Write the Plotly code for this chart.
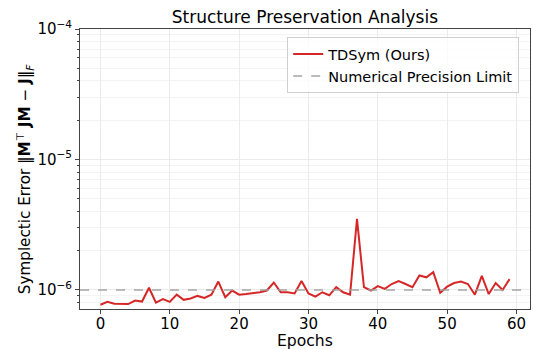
import plotly.graph_objects as go

epochs = list(range(60))
tdsym_error = [
    7.7e-7, 8.1e-7, 7.85e-7, 7.8e-7, 7.8e-7, 8.3e-7, 8.15e-7, 1.04e-6, 8.0e-7, 8.5e-7,
    8.1e-7, 9.2e-7, 8.4e-7, 8.6e-7, 9.0e-7, 8.7e-7, 9.2e-7, 1.16e-6, 8.8e-7, 9.9e-7,
    9.2e-7, 9.3e-7, 9.4e-7, 9.6e-7, 9.9e-7, 1.14e-6, 9.6e-7, 9.6e-7, 9.4e-7, 1.17e-6,
    9.4e-7, 8.9e-7, 9.6e-7, 9.1e-7, 1.05e-6, 9.6e-7, 9.2e-7, 3.5e-6, 1.05e-6, 9.9e-7,
    1.07e-6, 1.02e-6, 1.11e-6, 1.17e-6, 1.11e-6, 1.05e-6, 1.29e-6, 1.25e-6, 1.37e-6, 9.5e-7,
    1.06e-6, 1.13e-6, 1.16e-6, 1.11e-6, 9.2e-7, 1.28e-6, 9.3e-7, 1.13e-6, 1.0e-6, 1.21e-6,
]
precision_limit = 1e-6
x_ticks = [0, 10, 20, 30, 40, 50, 60]
y_ticks = [1e-6, 1e-5, 1e-4]
y_tick_labels = ["10<sup>−6</sup>", "10<sup>−5</sup>", "10<sup>−4</sup>"]
y_minor = [m * 10 ** e for e in (-7, -6, -5) for m in range(2, 10)]
y_label = "Symplectic Error ‖<b>M</b><sup>⊤</sup> <b>JM</b> − <b>J</b>‖<sub><i>F</i></sub>"
x_label = "Epochs"

font = "DejaVu Sans"
spine = "#444444"
grid = "#ebebeb"

fig = go.Figure()
fig.add_trace(go.Scatter(
    x=epochs, y=tdsym_error, mode="lines", name="TDSym (Ours)",
    line=dict(color="#d62728", width=2),
))
fig.add_trace(go.Scatter(
    x=[-2.95, 61.95], y=[precision_limit, precision_limit], mode="lines",
    name="Numerical Precision Limit",
    line=dict(color="rgba(160,160,160,0.7)", width=2, dash="dash"),
))

fig.update_layout(
    width=533, height=349,
    margin=dict(l=80, r=3, t=29, b=40),
    paper_bgcolor="white", plot_bgcolor="white",
    font=dict(family=font, size=15, color="black"),
    title=dict(text="Structure Preservation Analysis", x=0.572, xanchor="center",
               y=0.951, yanchor="middle", font=dict(size=17, color="black")),
    legend=dict(x=0.976, y=0.971, xanchor="right", yanchor="top",
                bordercolor="#d0d0d0", borderwidth=1, bgcolor="rgba(255,255,255,0.8)",
                font=dict(size=14.5), tracegroupgap=0),
    showlegend=True,
    annotations=[
        dict(text=y_label, textangle=-90, xref="paper", yref="paper",
             x=-0.122, y=0.464, xanchor="center", yanchor="middle",
             showarrow=False, font=dict(size=15.2)),
        dict(text=x_label, xref="paper", yref="paper",
             x=0.5, y=-0.116, xanchor="center", yanchor="middle",
             showarrow=False, font=dict(size=15.6)),
    ],
)
fig.update_xaxes(
    range=[-2.95, 61.95], tickvals=x_ticks, ticks="outside", ticklen=4,
    tickcolor=spine, showline=True, linecolor=spine, linewidth=1, mirror=True,
    showgrid=True, gridcolor=grid, gridwidth=1, zeroline=False, automargin=False,
    ticklabelstandoff=-3,
    tickfont=dict(size=15),
)
fig.update_yaxes(
    type="log", range=[-6.146, -4], tickvals=y_ticks, ticktext=y_tick_labels,
    ticks="outside", ticklen=4, tickcolor=spine, automargin=False,
    showline=True, linecolor=spine, linewidth=1, mirror=True,
    showgrid=True, gridcolor=grid, gridwidth=1, zeroline=False,
    minor=dict(tickvals=y_minor, ticks="outside", ticklen=2, tickcolor=spine,
               showgrid=True, gridcolor="#f3f3f3", gridwidth=1),
    tickfont=dict(size=15),
)

fig.write_html("out.html", config={"displayModeBar": False},
               post_script="document.body.style.margin='0';document.body.style.padding='0';")
